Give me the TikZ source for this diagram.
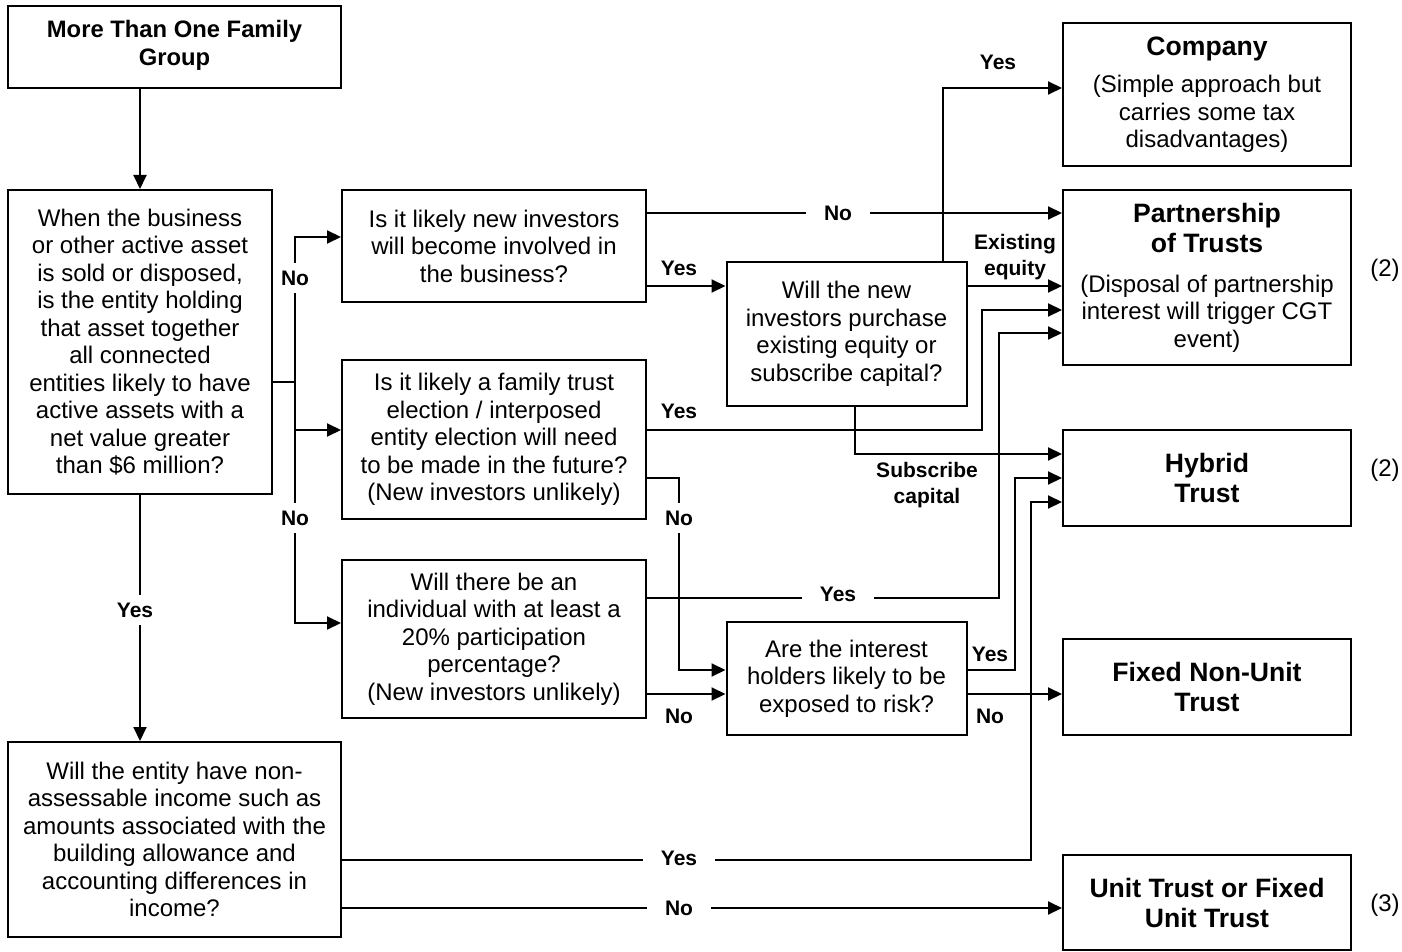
\documentclass[tikz,border=0pt]{standalone}
\usepackage{fontspec}
\setmainfont{Liberation Sans}
\usetikzlibrary{arrows.meta}
\newcommand\ttlfont{\bfseries\fontsize{13.3}{15}\selectfont}
\begin{document}
\begin{tikzpicture}[x=0.5pt,y=-0.5pt,
 box/.style={draw,line width=1pt,align=center,inner sep=0pt,font=\fontsize{12}{13.75}\selectfont},
 conn/.style={line width=1pt,-{Triangle[length=7pt,width=6.5pt]}},
 plain/.style={line width=1pt},
 lbl/.style={font=\bfseries\fontsize{10.5}{13}\selectfont,align=center,inner sep=1pt},
 gaph/.style={lbl,fill=white,inner xsep=9pt,inner ysep=2pt},
 gapv/.style={lbl,fill=white,inner xsep=2pt,inner ysep=4pt},
 note/.style={font=\fontsize{12}{13.75}\selectfont}]
\useasboundingbox (0,0) rectangle (1402,952);
% boxes
\node[box,minimum width=166.5pt,minimum height=41pt,font=\bfseries\fontsize{11.9}{14}\selectfont] (top) at (174.5,47) {More Than One Family\\Group\rule[-4.5pt]{0pt}{0pt}};
\node[box,minimum width=132pt,minimum height=152pt] (big) at (140,342) {When the business\\or other active asset\\is sold or disposed,\\is the entity holding\\that asset together\\all connected\\entities likely to have\\active assets with a\\net value greater\\than \$6 million?};
\node[box,minimum width=166.5pt,minimum height=97.5pt] (bl) at (174.5,839.5) {Will the entity have non-\\assessable income such as\\amounts associated with the\\building allowance and\\accounting differences in\\income?};
\node[box,minimum width=152pt,minimum height=56pt] (q1) at (494,246) {Is it likely new investors\\will become involved in\\the business?};
\node[box,minimum width=152pt,minimum height=79.5pt] (q2) at (494,439.5) {Is it likely a family trust\\election / interposed\\entity election will need\\to be made in the future?\\(New investors unlikely)};
\node[box,minimum width=152pt,minimum height=79pt] (q3) at (494,639) {Will there be an\\individual with at least a\\20\% participation\\percentage?\\(New investors unlikely)};
\node[box,minimum width=120pt,minimum height=72pt] (q4) at (846.5,334) {Will the new\\investors purchase\\existing equity or\\subscribe capital?};
\node[box,minimum width=120pt,minimum height=56.5pt] (q5) at (846.5,678.5) {Are the interest\\holders likely to be\\exposed to risk?};
\node[box,minimum width=144pt,minimum height=71.5pt] (comp) at (1207,94.5) {{\ttlfont Company}\\[5pt](Simple approach but\\carries some tax\\disadvantages)};
\node[box,minimum width=144pt,minimum height=87.5pt] (part) at (1207,277.5) {{\ttlfont Partnership}\\[1.25pt]{\ttlfont of Trusts}\\[6.25pt](Disposal of partnership\\interest will trigger CGT\\event)};
\node[box,minimum width=144pt,minimum height=48pt,font=\ttlfont] (hyb) at (1207,478) {Hybrid\\Trust};
\node[box,minimum width=144pt,minimum height=48pt,font=\ttlfont] (fix) at (1207,687) {Fixed Non-Unit\\Trust};
\node[box,minimum width=144pt,minimum height=47.5pt,font=\ttlfont] (unit) at (1207,902.5) {Unit Trust or Fixed\\Unit Trust};
\node[note] (n1) at (1385,270) {(2)};
\node[note] (n2) at (1385,470) {(2)};
\node[note] (n3) at (1385,905) {(3)};
% connectors
\coordinate (trunk) at (295,382);
\draw[conn] (big.north |- top.south) -- (big.north);
\draw[conn] (big.south) -- (bl.north -| big.south);
\draw[plain] (big.east |- trunk) -- (trunk);
\draw[conn] (trunk) |- (q1.west |- 0,237);
\draw[conn] (trunk) |- (q2.west |- 0,430);
\draw[conn] (trunk) |- (q3.west |- 0,623);
\draw[conn] (q1.east |- 0,213) -- (part.west |- 0,213);
\draw[conn] (q1.east |- 0,286) -- (q4.west |- 0,286);
\draw[conn] (q4.north -| 943,0) |- (comp.west |- 0,88);
\draw[conn] (q4.east |- 0,286) -- (part.west |- 0,286);
\draw[conn] (q2.east |- 0,430) -| (982,310) -- (part.west |- 0,310);
\draw[conn] (q3.east |- 0,598) -| (999,333) -- (part.west |- 0,333);
\draw[conn] (q4.south -| 855,0) |- (hyb.west |- 0,454);
\draw[conn] (q2.east |- 0,478) -| (679,670) -- (q5.west |- 0,670);
\draw[conn] (q3.east |- 0,694) -- (q5.west |- 0,694);
\draw[conn] (q5.east |- 0,670) -| (1015,478) -- (hyb.west |- 0,478);
\draw[conn] (q5.east |- 0,694) -- (fix.west |- 0,694);
\draw[conn] (bl.east |- 0,860) -| (1031,502) -- (hyb.west |- 0,502);
\draw[conn] (bl.east |- 0,908) -- (unit.west |- 0,908);
% labels
\node[gapv] (l1) at (295,278) {No};
\node[gapv] (l2) at (295,518) {No};
\node[gapv] (l3) at (135,610) {Yes};
\node[gaph] (l4) at (838,213) {No};
\node[lbl] (l5) at (679,268) {Yes};
\node[lbl] (l6) at (998,62) {Yes};
\node[lbl] (l7) at (1015,257) {Existing\\equity};
\node[lbl] (l8) at (679,411) {Yes};
\node[lbl] (l9) at (927,485) {Subscribe\\capital};
\node[gaph] (l10) at (838,594) {Yes};
\node[gapv] (l11) at (679,518) {No};
\node[lbl] (l12) at (679,716) {No};
\node[lbl] (l13) at (990,654) {Yes};
\node[lbl] (l14) at (990,716) {No};
\node[gaph] (l15) at (679,858) {Yes};
\node[gaph] (l16) at (679,908) {No};
\end{tikzpicture}
\end{document}
